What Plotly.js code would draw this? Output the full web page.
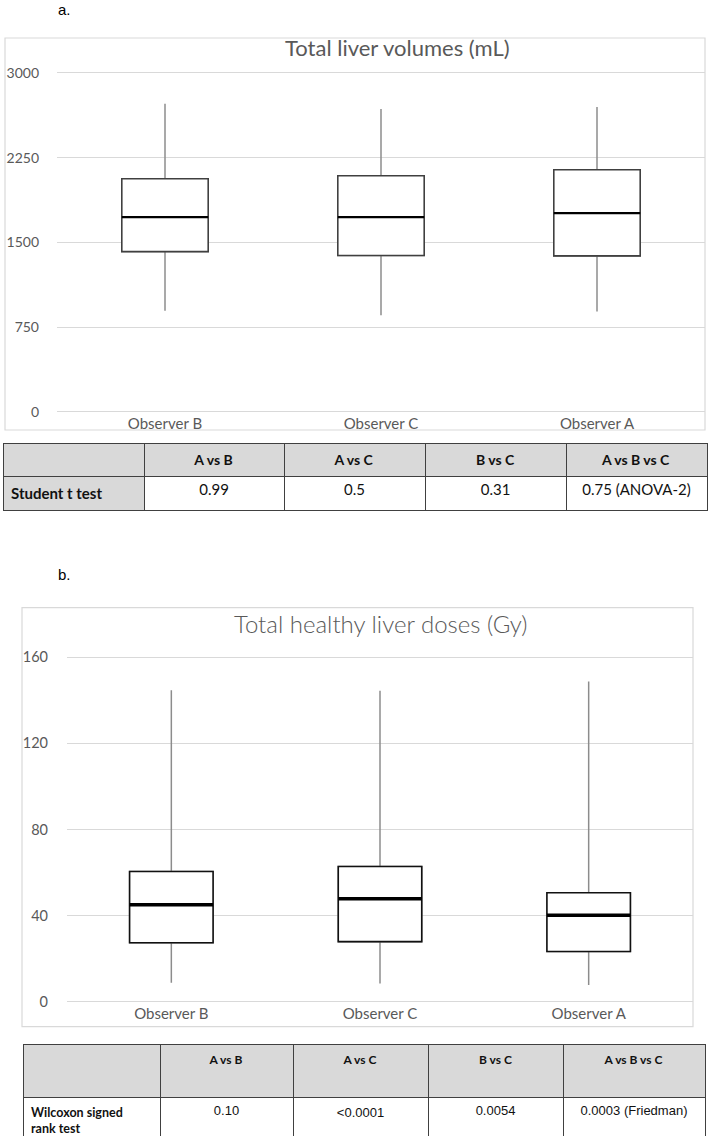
<!DOCTYPE html>
<html>
<head>
<meta charset="utf-8">
<script src="https://cdn.plot.ly/plotly-3.0.1.min.js"></script>
<style>
  html, body { margin: 0; padding: 0; background: #fff; }
  #liver_plot { width: 709px; height: 1136px; }
</style>
</head>
<body>
<div id="liver_plot"></div>
<script>
// categories (same order for both charts)
var observers = ['Observer B', 'Observer C', 'Observer A'];

// a. total liver volumes (mL)
var volLower  = [895, 855, 887];
var volQ1     = [1418, 1383, 1380];
var volMedian = [1723, 1723, 1759];
var volQ3     = [2063, 2090, 2143];
var volUpper  = [2728, 2681, 2699];
var volTicks  = [0, 750, 1500, 2250, 3000];

// b. total healthy liver doses (Gy)
var doseLower  = [8.8, 8.5, 7.8];
var doseQ1     = [27.4, 27.9, 23.3];
var doseMedian = [45, 47.8, 40.2];
var doseQ3     = [60.5, 62.8, 50.6];
var doseUpper  = [144.7, 144.5, 148.8];
var doseTicks  = [0, 40, 80, 120, 160];

// tables
var compareCols    = ['A vs B', 'A vs C', 'B vs C', 'A vs B vs C'];
var tTestLabel     = 'Student t test';
var tTestValues    = ['0.99', '0.5', '0.31', '0.75 (ANOVA-2)'];
var wilcoxonLabel  = 'Wilcoxon signed<br>rank test';
var wilcoxonValues = ['0.10', '&lt;0.0001', '0.0054', '0.0003 (Friedman)'];

var W = 709, H = 1136;
function px(x) { return x / W; }
function py(y) { return 1 - y / H; }

var GRAY_TXT = '#595959';
var GRID = '#d9d9d9';

// three stacked box traces: gray whiskers, black box, thick median
function boxTraces(xa, ya, lower, q1, med, q3, upper, boxColor, medWidth) {
    var common = { type: 'box', x: observers, xaxis: xa, yaxis: ya, width: 0.4,
                   whiskerwidth: 0, boxpoints: false, hoverinfo: 'skip' };
    var whisk = Object.assign({}, common, {
        q1: q1, median: med, q3: q3, lowerfence: lower, upperfence: upper,
        fillcolor: '#ffffff', line: { color: '#8c8c8c', width: 1.5 }
    });
    var box = Object.assign({}, common, {
        q1: q1, median: med, q3: q3, lowerfence: q1, upperfence: q3,
        fillcolor: '#ffffff', line: { color: boxColor, width: 1.6 }
    });
    var mid = Object.assign({}, common, {
        q1: med, median: med, q3: med, lowerfence: med, upperfence: med,
        fillcolor: 'rgba(0,0,0,0)', line: { color: '#000000', width: medWidth }
    });
    return [whisk, box, mid];
}

function headerVals(cols) {
    var v = [['']];
    for (var i in cols) v.push(['<b>' + cols[i] + '</b>']);
    return v;
}
function cellVals(label, vals) {
    var v = [['<b>' + label + '</b>']];
    for (var i in vals) v.push([vals[i]]);
    return v;
}

var data = []
    .concat(boxTraces('x', 'y', volLower, volQ1, volMedian, volQ3, volUpper, '#404040', 2.4))
    .concat(boxTraces('x2', 'y2', doseLower, doseQ1, doseMedian, doseQ3, doseUpper, '#111111', 3.5));

data.push({
    type: 'table',
    domain: { x: [px(3), px(707)], y: [py(512), py(443)] },
    columnwidth: [141, 140, 141, 141, 141],
    header: {
        values: headerVals(compareCols),
        align: ['left', 'center', 'center', 'center', 'center'],
        height: 32,
        fill: { color: '#d9d9d9' },
        line: { color: '#404040', width: 1 },
        font: { family: 'Lato, sans-serif', size: 14, color: '#111' }
    },
    cells: {
        values: cellVals(tTestLabel, tTestValues),
        align: ['left', 'center', 'center', 'center', 'center'],
        height: 32,
        fill: { color: [['#d9d9d9'], ['#ffffff'], ['#ffffff'], ['#ffffff'], ['#ffffff']] },
        line: { color: '#404040', width: 1 },
        font: { family: 'Lato, sans-serif', size: 15, color: '#111' }
    }
});

data.push({
    type: 'table',
    domain: { x: [px(23), px(705)], y: [py(1136), py(1044)] },
    columnwidth: [137, 133, 135, 135, 142],
    header: {
        values: headerVals(compareCols),
        align: ['left', 'center', 'center', 'center', 'center'],
        height: 53,
        fill: { color: '#d9d9d9' },
        line: { color: '#404040', width: 1 },
        font: { family: 'Lato, sans-serif', size: 12, color: '#111' }
    },
    cells: {
        values: cellVals(wilcoxonLabel, wilcoxonValues),
        align: ['left', 'center', 'center', 'center', 'center'],
        height: 35,
        fill: { color: '#ffffff' },
        line: { color: '#404040', width: 1 },
        font: {
            family: ['Lato, sans-serif', 'Liberation Sans, Arial', 'Liberation Sans, Arial', 'Liberation Sans, Arial', 'Liberation Sans, Arial'],
            size: [12.5, 13, 13, 13, 13],
            color: '#111'
        }
    }
});

var layout = {
    width: W,
    height: H,
    margin: { l: 0, r: 0, t: 0, b: 0 },
    paper_bgcolor: '#ffffff',
    plot_bgcolor: '#ffffff',
    showlegend: false,
    boxmode: 'overlay',
    xaxis: {
        domain: [px(57), px(705)], anchor: 'y', type: 'category', range: [-0.5, 2.5],
        showgrid: false, zeroline: false, showline: false, ticks: '',
        tickfont: { family: 'Lato, sans-serif', size: 15, color: GRAY_TXT }
    },
    // range padded a little so the 0 and 3000 gridlines are kept
    yaxis: {
        domain: [py(413.4), py(71.3)], anchor: 'x', range: [-15, 3015], tickvals: volTicks,
        gridcolor: GRID, gridwidth: 1, zeroline: false, showline: false, ticks: '',
        ticklabelstandoff: 17,
        tickfont: { family: 'Lato, sans-serif', size: 14, color: GRAY_TXT }
    },
    xaxis2: {
        domain: [px(67), px(693)], anchor: 'y2', type: 'category', range: [-0.5, 2.5],
        showgrid: false, zeroline: false, showline: false, ticks: '',
        tickfont: { family: 'Lato, sans-serif', size: 15, color: GRAY_TXT }
    },
    yaxis2: {
        domain: [py(1003.4), py(655.6)], anchor: 'x2', range: [-0.8, 160.8], tickvals: doseTicks,
        gridcolor: GRID, gridwidth: 1.6, zeroline: false, showline: false, ticks: '',
        ticklabelstandoff: 18,
        tickfont: { family: 'Lato, sans-serif', size: 14.5, color: GRAY_TXT }
    },
    shapes: [
        { type: 'rect', xref: 'paper', yref: 'paper', x0: px(5), x1: px(705), y0: py(430), y1: py(38),
          line: { color: GRID, width: 1.2 }, layer: 'below' },
        { type: 'rect', xref: 'paper', yref: 'paper', x0: px(22), x1: px(693), y0: py(1026.7), y1: py(607.7),
          line: { color: GRID, width: 1.2 }, layer: 'below' }
    ],
    annotations: [
        { text: 'a.', xref: 'paper', yref: 'paper', x: px(56), y: py(9), xanchor: 'left', yanchor: 'middle',
          showarrow: false, font: { family: 'Liberation Sans, Arial', size: 15, color: '#000' } },
        { text: 'b.', xref: 'paper', yref: 'paper', x: px(56), y: py(574), xanchor: 'left', yanchor: 'middle',
          showarrow: false, font: { family: 'Liberation Sans, Arial', size: 15, color: '#000' } },
        { text: 'Total liver volumes (mL)', xref: 'paper', yref: 'paper', x: px(397), y: py(47),
          xanchor: 'center', yanchor: 'middle', showarrow: false,
          font: { family: 'Lato, sans-serif', size: 22, color: GRAY_TXT } },
        { text: 'Total healthy liver doses (Gy)', xref: 'paper', yref: 'paper', x: px(380), y: py(623),
          xanchor: 'center', yanchor: 'middle', showarrow: false,
          font: { family: 'Lato, sans-serif', size: 24, weight: 300, color: GRAY_TXT } }
    ]
};

Plotly.newPlot('liver_plot', data, layout, { displayModeBar: false, staticPlot: true });
</script>
</body>
</html>
